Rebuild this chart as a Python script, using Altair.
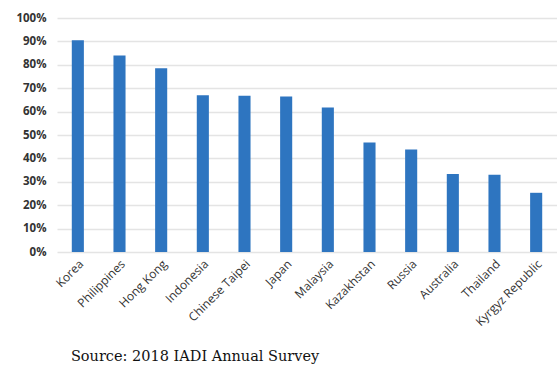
import altair as alt
import pandas as pd

countries = ["Korea", "Philippines", "Hong Kong", "Indonesia", "Chinese Taipei", "Japan",
             "Malaysia", "Kazakhstan", "Russia", "Australia", "Thailand", "Kyrgyz Republic"]
shares = [0.905, 0.84, 0.785, 0.67, 0.668, 0.665, 0.618, 0.468, 0.438, 0.333, 0.33, 0.253]
y_ticks = [i / 10 for i in range(11)]

df = pd.DataFrame({"country": countries, "share": shares})

chart = alt.Chart(df).mark_bar(color="#2e75c0").encode(
    x=alt.X("country:N", sort=countries, title=None,
            scale=alt.Scale(paddingInner=0.71, paddingOuter=0.355),
            axis=alt.Axis(labelAngle=-45, labelAlign="right", labelBaseline="top",
                          labelFont="Open Sans", labelFontSize=12, labelColor="#333333",
                          labelPadding=6, ticks=False, domain=False, grid=False,
                          gridOpacity=0, domainOpacity=0)),
    y=alt.Y("share:Q", title=None,
            scale=alt.Scale(domain=[0, 1], nice=False),
            axis=alt.Axis(values=y_ticks, format=".0%", labelFont="Open Sans",
                          labelFontSize=11.5, labelFontWeight="bold", labelColor="#333333",
                          labelPadding=11, ticks=False, domain=False, domainOpacity=0,
                          grid=True, gridColor="#e4e4e4", gridWidth=1.5)),
).properties(
    width=500, height=234,
    background="white",
    title=alt.TitleParams("Source: 2018 IADI Annual Survey", orient="bottom", anchor="start",
                          font="DejaVu Serif", fontSize=14.5, fontWeight="normal",
                          color="#111111", offset=22, dx=55),
    padding={"left": 57, "top": 18, "right": 0, "bottom": 115},
    autosize=alt.AutoSizeParams(type="none"),
).configure_view(
    stroke="white", strokeOpacity=0, strokeWidth=0
).configure_axisX(grid=False, domain=False).configure_axisY(domain=False)

chart.save("out.html", embed_options={"renderer": "svg", "actions": False})
